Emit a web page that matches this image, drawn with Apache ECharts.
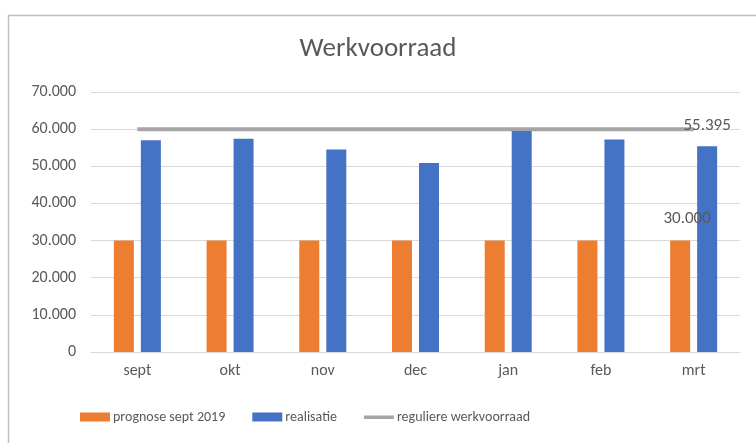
<!DOCTYPE html>
<html><head><meta charset="utf-8">
<script src="https://cdn.jsdelivr.net/npm/echarts@6/dist/echarts.min.js"></script>
<style>html,body{margin:0;padding:0;background:#fff}#c{width:756px;height:443px}</style>
</head><body><div id="c"></div>
<script>
var categories = ['sept','okt','nov','dec','jan','feb','mrt'];
var prognose = [30000,30000,30000,30000,30000,30000,30000];
var realisatie = [57000,57400,54500,50900,59500,57200,55395];
var regulier = [60000,60000,60000,60000,60000,60000,60000];
var yTicks = {min:0, max:70000, interval:10000};

function fmt(v){ return String(Math.round(v)).replace(/\B(?=(\d{3})+(?!\d))/g,'.'); }
function lastLabel(data){
  return data.map(function(v,i){
    return i === data.length-1 ? {value:v, label:{show:true}} : v;
  });
}
var font = 'Calibri, "Liberation Sans", "Open Sans", sans-serif';
var chart = echarts.init(document.getElementById('c'), null, {renderer:'canvas'});
chart.setOption({
  animation:false,
  backgroundColor:'#fff',
  graphic:[{type:'rect', left:6, top:13, shape:{width:760, height:440}, style:{fill:'none', stroke:'#bfbfbf', lineWidth:1.5}, silent:true}],
  title:{text:'Werkvoorraad', left:'center', top:31, textStyle:{fontFamily:font, fontSize:27, fontWeight:'normal', color:'#595959'}},
  grid:{left:91, right:16, top:92, bottom:91},
  legend:{bottom:14, left:75, itemWidth:30, itemHeight:9, itemGap:27,
    textStyle:{fontFamily:font, fontSize:14, color:'#595959', padding:[0,0,0,-2]},
    data:[{name:'prognose sept 2019', icon:'rect'},{name:'realisatie', icon:'rect'},
      {name:'reguliere werkvoorraad', icon:'path://M0,0H30V0.01H0ZM0,3H30V6.5H0ZM0,9H30V9.01H0Z', itemStyle:{color:'#a5a5a5'}}]},
  xAxis:{type:'category', data:categories,
    axisLine:{lineStyle:{color:'#d9d9d9', width:1}}, axisTick:{show:false},
    axisLabel:{fontFamily:font, fontSize:16, color:'#595959', margin:11}},
  yAxis:{type:'value', min:yTicks.min, max:yTicks.max, interval:yTicks.interval,
    axisLine:{show:false}, axisTick:{show:false},
    splitLine:{lineStyle:{color:'#d9d9d9', width:1}},
    axisLabel:{fontFamily:font, fontSize:16, color:'#595959', margin:15, formatter:fmt}},
  series:[
    {name:'prognose sept 2019', type:'bar', data:lastLabel(prognose), barWidth:20, barGap:'35%',
      itemStyle:{color:'#ed7d31'},
      label:{show:false, position:'top', distance:13, formatter:function(p){return fmt(p.value);}, fontFamily:font, fontSize:17, color:'#595959', offset:[7,0]}},
    {name:'realisatie', type:'bar', data:lastLabel(realisatie), barWidth:20,
      itemStyle:{color:'#4472c4'},
      label:{show:false, position:'top', distance:12, formatter:function(p){return fmt(p.value);}, fontFamily:font, fontSize:17, color:'#595959'}},
    {name:'reguliere werkvoorraad', type:'line', data:regulier, symbol:'none', z:1,
      lineStyle:{color:'#a5a5a5', width:4}, itemStyle:{color:'#a5a5a5'}}
  ]
});
</script></body></html>
